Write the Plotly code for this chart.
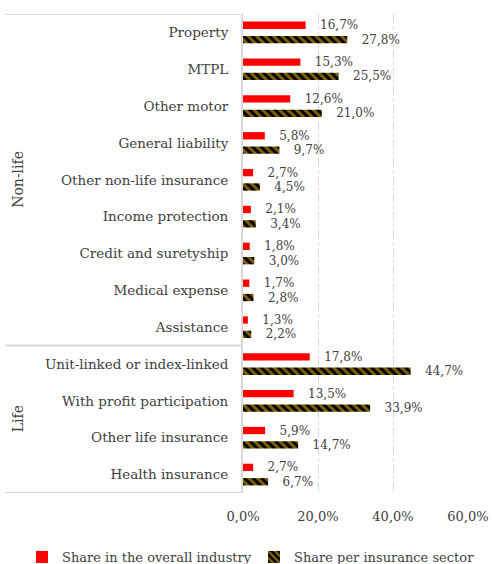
import plotly.graph_objects as go

categories = ["Property", "MTPL", "Other motor", "General liability", "Other non-life insurance",
              "Income protection", "Credit and suretyship", "Medical expense", "Assistance",
              "Unit-linked or index-linked", "With profit participation", "Other life insurance",
              "Health insurance"]
groups = ["Non-life"] * 9 + ["Life"] * 4
share_industry = [16.7, 15.3, 12.6, 5.8, 2.7, 2.1, 1.8, 1.7, 1.3, 17.8, 13.5, 5.9, 2.7]
share_sector = [27.8, 25.5, 21.0, 9.7, 4.5, 3.4, 3.0, 2.8, 2.2, 44.7, 33.9, 14.7, 6.7]
series_names = ["Share in the overall industry", "Share per insurance sector"]
x_ticks = [0, 20, 40, 60]

def fmt(v):
    return f"{v:.1f}".replace(".", ",") + "%"

FONT = "DejaVu Serif"
TXT = "#404040"
pad = "\u00a0\u00a0\u00a0"

fig = go.Figure()
fig.add_trace(go.Bar(
    y=categories, x=share_industry, orientation="h", name=series_names[0],
    marker=dict(color="#FF0000", line=dict(width=0)),
    text=[pad + fmt(v) for v in share_industry], textposition="outside",
    constraintext="none", legend="legend",
    textfont=dict(family=FONT, size=12, color=TXT), cliponaxis=False,
))
fig.add_trace(go.Bar(
    y=categories, x=share_sector, orientation="h", name=series_names[1],
    marker=dict(color="black", line=dict(width=0),
                pattern=dict(shape="\\", fgcolor="#FFC000", bgcolor="black",
                             size=6, solidity=0.5)),
    text=[pad + fmt(v) for v in share_sector], textposition="outside",
    constraintext="none", legend="legend2",
    textfont=dict(family=FONT, size=12, color=TXT), cliponaxis=False,
))

leg_common = dict(orientation="h", xref="container", yref="container",
                  xanchor="left", yanchor="middle", y=7 / 564,
                  font=dict(family=FONT, size=13, color=TXT), itemwidth=30,
                  bgcolor="rgba(0,0,0,0)")

fig.update_layout(
    width=492, height=564,
    margin=dict(l=243, r=24, t=14, b=71, autoexpand=False),
    paper_bgcolor="white", plot_bgcolor="white",
    barmode="group", bargap=0.22, bargroupgap=0.49,
    font=dict(family=FONT, size=13, color=TXT),
    showlegend=True,
    legend=dict(x=22 / 492, **leg_common),
    legend2=dict(x=254 / 492, **leg_common),
)
fig.update_xaxes(
    range=[0, 60], tickvals=x_ticks, ticktext=[fmt(v) for v in x_ticks],
    showgrid=True, gridcolor="#d9d9d9", griddash="dashdot", gridwidth=1,
    zeroline=False, showline=False, ticks="", ticklabelstandoff=14,
    tickfont=dict(family=FONT, size=13, color=TXT),
)
fig.update_yaxes(
    range=[len(categories) - 0.5, -0.5], showgrid=False, zeroline=False,
    showline=True, linecolor="#d9d9d9", linewidth=2, ticks="",
    ticklabelstandoff=10, tickfont=dict(family=FONT, size=13.5, color=TXT),
)

# group box lines
n_nonlife = groups.count("Non-life")
for yv in [-0.5, n_nonlife - 0.5, len(categories) - 0.5]:
    fig.add_shape(type="line", xref="paper", yref="y", x0=-238 / 225, x1=0,
                  y0=yv, y1=yv, line=dict(color="#d9d9d9", width=2))

for g in ["Non-life", "Life"]:
    idx = [i for i, gg in enumerate(groups) if gg == g]
    fig.add_annotation(text=g, xref="paper", yref="y", x=-225 / 225, y=(idx[0] + idx[-1]) / 2,
                       textangle=-90, showarrow=False, xanchor="center", yanchor="middle",
                       font=dict(family=FONT, size=14, color=TXT))

fig.write_html("out.html")
